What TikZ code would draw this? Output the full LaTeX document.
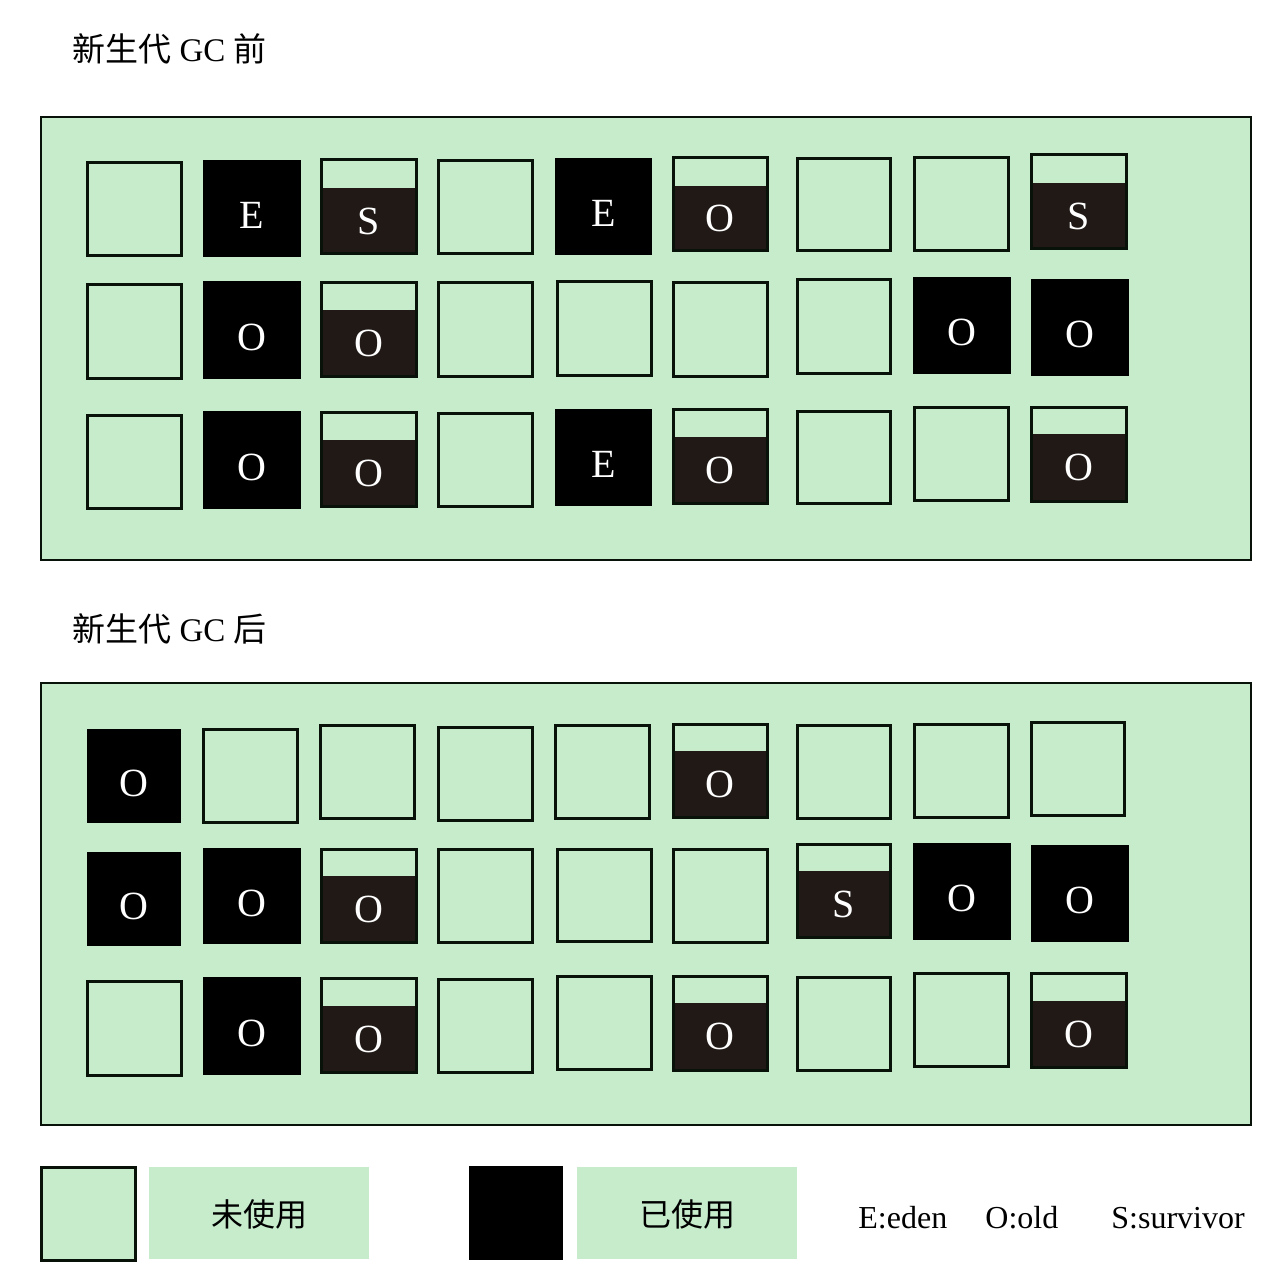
\documentclass[tikz,border=0pt]{standalone}
\usepackage{fontspec}
\setmainfont{Liberation Serif}
\newfontfamily\cjk{Noto Sans CJK SC}
\definecolor{younggreen}{RGB}{198,236,204}
\definecolor{halfdark}{RGB}{32,25,22}
\definecolor{edgeline}{RGB}{8,18,8}
\tikzset{
	freecell/.style={draw=edgeline, line width=1.5pt, fill=younggreen},
	panel/.style={draw=edgeline, line width=1.2pt, fill=younggreen},
	tag/.style={text=white, font=\fontsize{20}{20}\selectfont, inner sep=0pt},
	caption/.style={font=\fontsize{16.5}{18}\selectfont, anchor=base west, inner sep=0pt},
	legendtext/.style={font=\fontsize{16}{18}\selectfont, inner sep=0pt}
}
\def\freebox(#1,#2)(#3,#4){\draw[freecell] (#1,#2) rectangle (#3,#4);}
\def\usedbox[#1](#2,#3)(#4,#5)#6{\fill[black] (#2,#3) rectangle (#4,#5);
	\node[tag] (#1) at ({(#2+#4)/2},{(#3+#5)/2+7}) {#6};}
\def\halfbox[#1](#2,#3)(#4,#5)(#6)#7{\fill[halfdark] (#2,#6) rectangle (#4,#5);
	\draw[edgeline, line width=1.5pt] (#2,#3) rectangle (#4,#5);
	\node[tag] (#1) at ({(#2+#4)/2},{(#6+#5)/2}) {#7};}

\begin{document}
\begin{tikzpicture}[x=0.5pt, y=-0.5pt]
		%%%%% START %%%%%
		\useasboundingbox (0,0) rectangle (1283,1278);
		
		\node[caption] (pretitle) at (72,62) {{\cjk 新生代} GC {\cjk 前}};
		\draw[panel] (41,117) rectangle (1251,560);
		
		% before GC, row 1
		\freebox(87,163)(181,256)
		\usedbox[pre12](203,160)(301,257){E}
		\halfbox[pre13](321,160)(416,254)(188){S}
		\freebox(438,161)(532,254)
		\usedbox[pre15](555,158)(652,255){E}
		\halfbox[pre16](673,158)(767,251)(186){O}
		\freebox(797,159)(890,251)
		\freebox(914,158)(1008,251)
		\halfbox[pre19](1031,155)(1126,249)(183){S}
		
		% before GC, row 2
		\freebox(87,285)(181,378)
		\usedbox[pre22](203,281)(301,379){O}
		\halfbox[pre23](321,283)(416,376)(310){O}
		\freebox(438,283)(532,376)
		\freebox(557,282)(651,375)
		\freebox(673,283)(767,376)
		\freebox(797,280)(890,373)
		\usedbox[pre28](913,277)(1011,374){O}
		\usedbox[pre29](1031,279)(1129,376){O}
		
		% before GC, row 3
		\freebox(87,415)(181,508)
		\usedbox[pre32](203,411)(301,509){O}
		\halfbox[pre33](321,412)(416,506)(440){O}
		\freebox(438,413)(532,506)
		\usedbox[pre35](555,409)(652,506){E}
		\halfbox[pre36](673,409)(767,503)(437){O}
		\freebox(797,411)(890,503)
		\freebox(914,407)(1008,500)
		\halfbox[pre39](1031,407)(1126,501)(434){O}
		
		\node[caption] (posttitle) at (72,641) {{\cjk 新生代} GC {\cjk 后}};
		\draw[panel] (41,683) rectangle (1251,1125);
		
		% after GC, row 1
		\usedbox[post11](87,729)(181,823){O}
		\freebox(203,729)(297,822)
		\freebox(320,725)(414,818)
		\freebox(438,727)(532,820)
		\freebox(555,725)(649,818)
		\halfbox[post16](673,724)(767,817)(751){O}
		\freebox(797,725)(890,818)
		\freebox(914,724)(1008,817)
		\freebox(1031,722)(1124,815)
		
		% after GC, row 2
		\usedbox[post21](87,852)(181,946){O}
		\usedbox[post22](203,848)(301,944){O}
		\halfbox[post23](321,849)(416,942)(876){O}
		\freebox(438,849)(532,942)
		\freebox(557,849)(651,941)
		\freebox(673,849)(767,942)
		\halfbox[post27](797,844)(890,937)(871){S}
		\usedbox[post28](913,843)(1011,940){O}
		\usedbox[post29](1031,845)(1129,942){O}
		
		% after GC, row 3
		\freebox(87,981)(181,1075)
		\usedbox[post32](203,977)(301,1075){O}
		\halfbox[post33](321,978)(416,1072)(1006){O}
		\freebox(438,979)(532,1072)
		\freebox(557,976)(651,1069)
		\halfbox[post36](673,976)(767,1070)(1003){O}
		\freebox(797,977)(890,1070)
		\freebox(914,973)(1008,1066)
		\halfbox[post39](1031,973)(1126,1067)(1001){O}
		
		% legend
		\draw[freecell] (41,1167) rectangle (135,1260);
		\fill[younggreen] (149,1167) rectangle (369,1259);
		\node[legendtext] (unused) at (259,1214) {\cjk 未使用};
		\fill[black] (469,1166) rectangle (563,1260);
		\fill[younggreen] (577,1167) rectangle (797,1259);
		\node[legendtext] (used) at (687,1214) {\cjk 已使用};
		\node[legendtext, anchor=base west] (eden) at (858,1228) {E:eden};
		\node[legendtext, anchor=base west] (old) at (985,1228) {O:old};
		\node[legendtext, anchor=base west] (survivor) at (1111,1228) {S:survivor};
		
		%%%%% END %%%%%
\end{tikzpicture}
\end{document}
